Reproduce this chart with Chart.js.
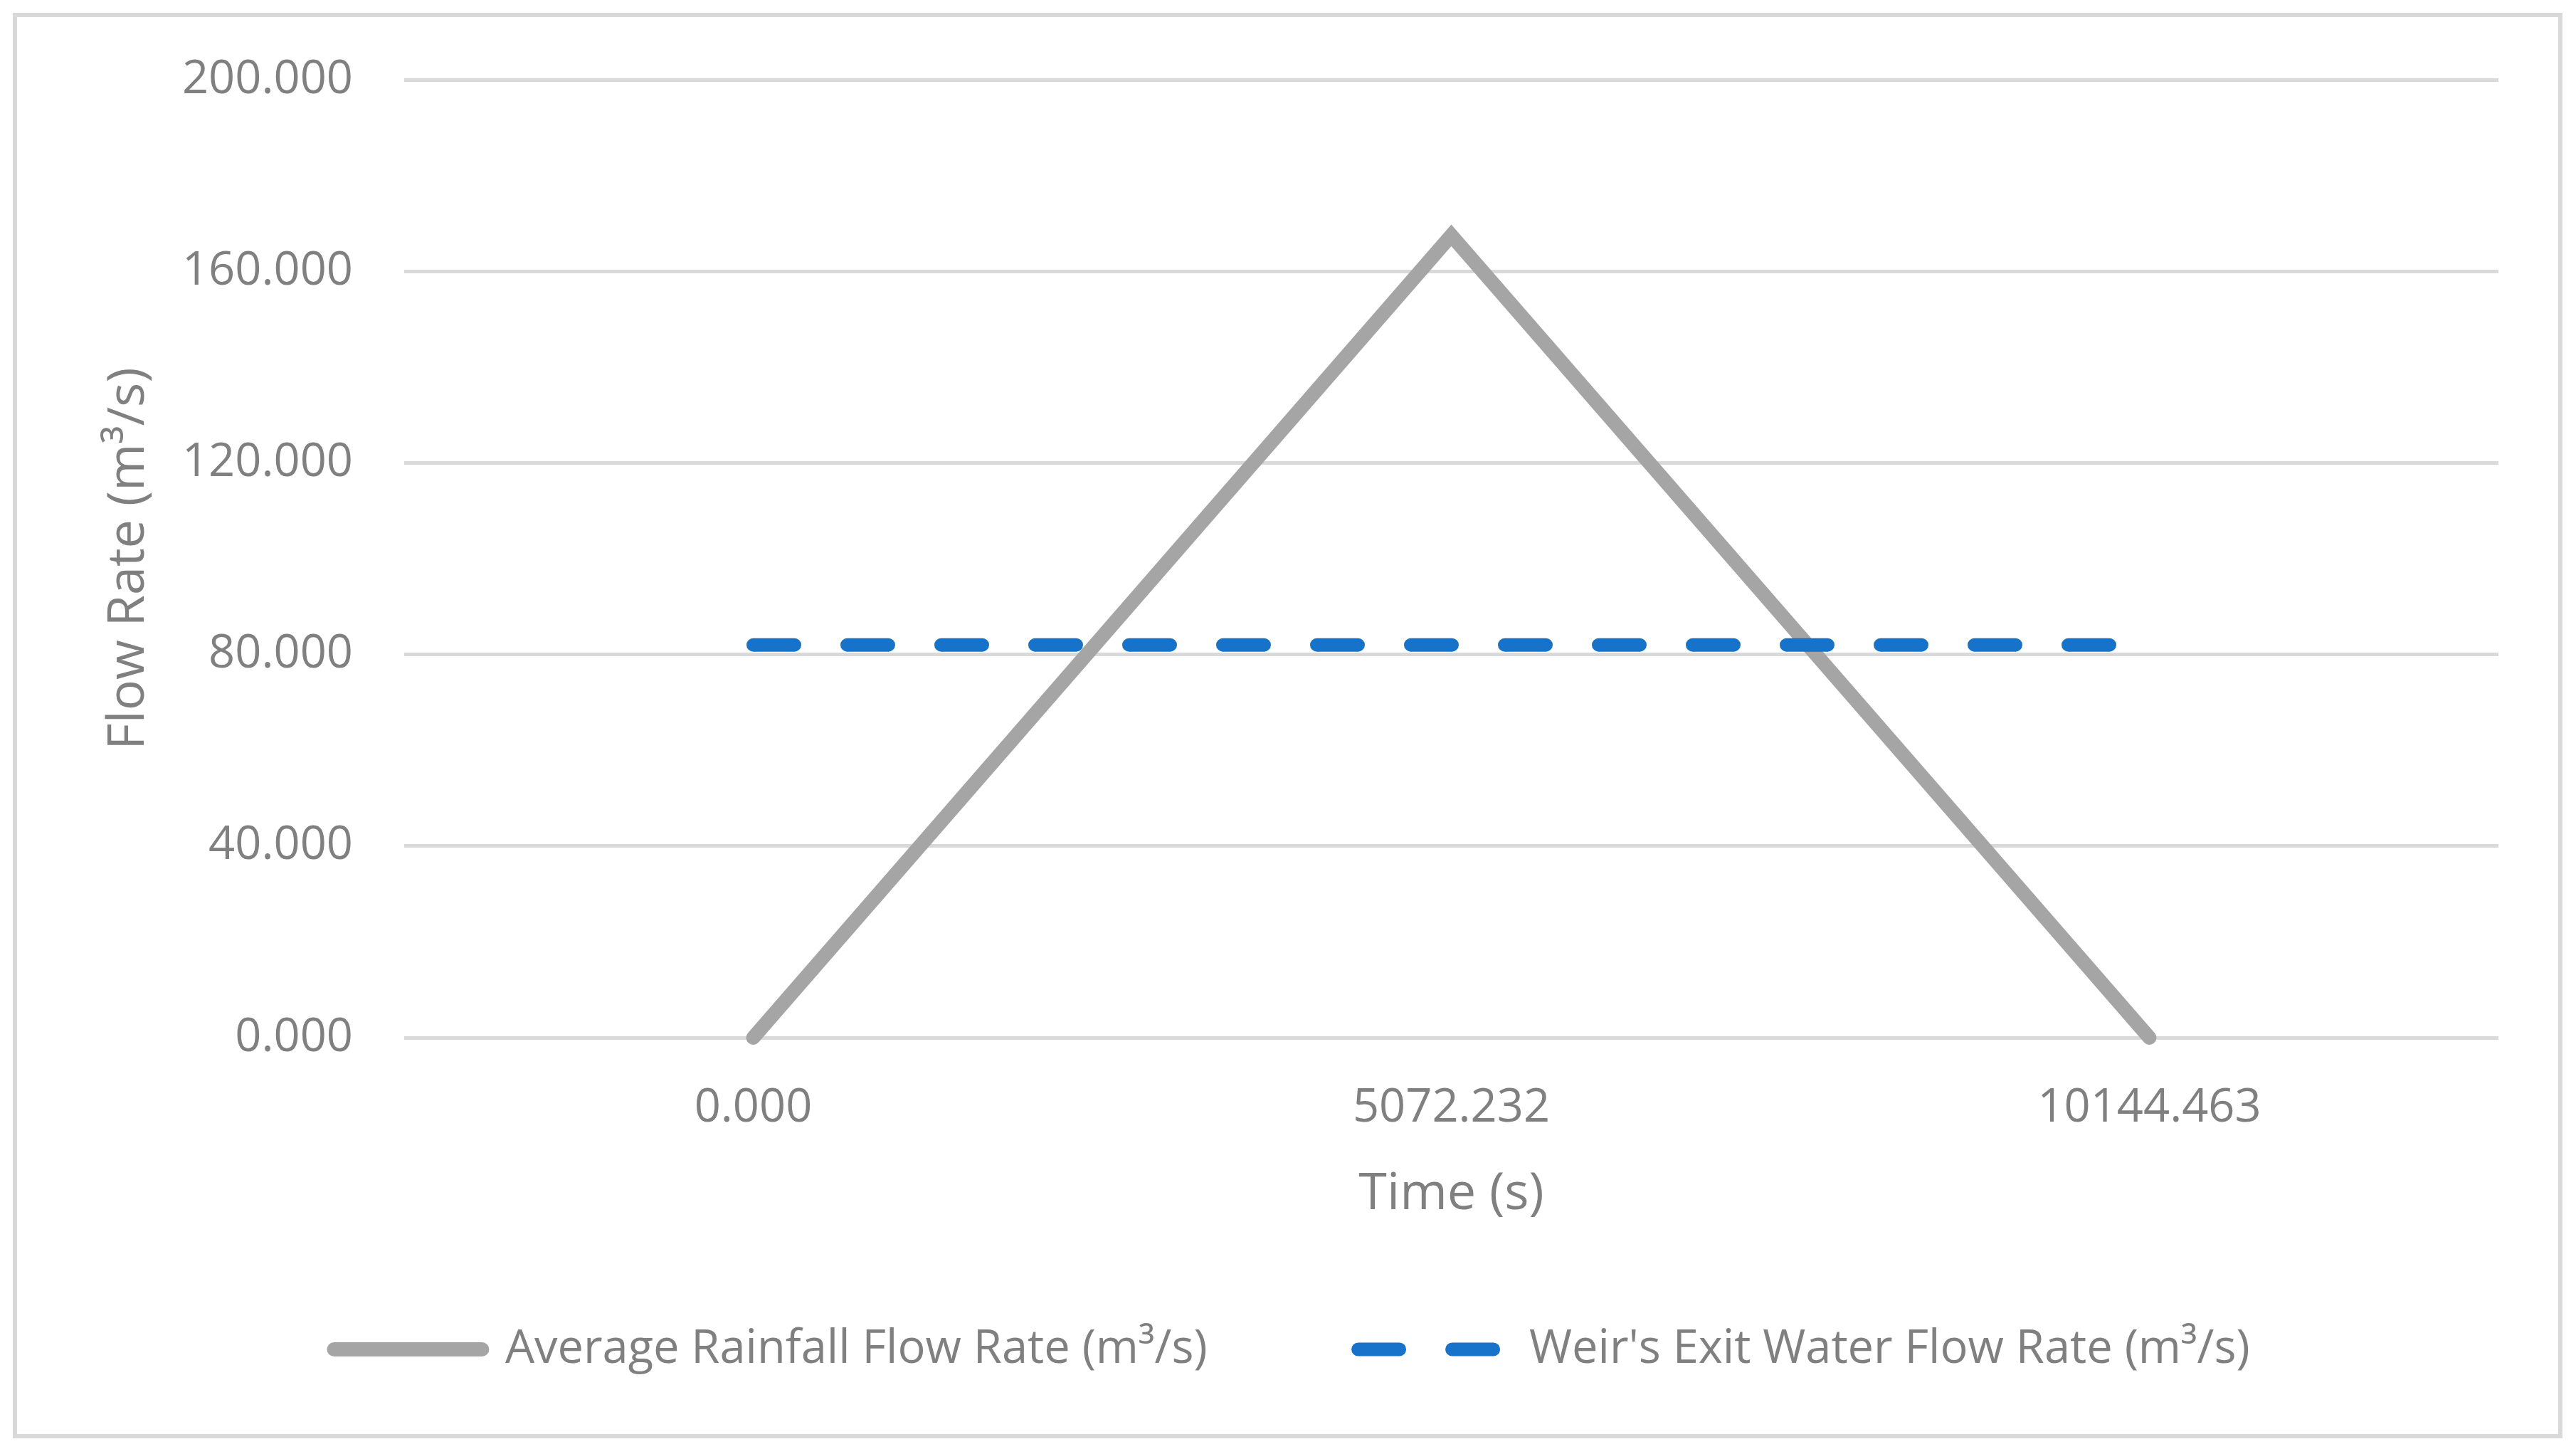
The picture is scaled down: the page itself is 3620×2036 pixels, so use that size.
<!DOCTYPE html>
<html>
<head>
<meta charset="utf-8">
<script src="https://cdn.jsdelivr.net/npm/chart.js@4.4.1/dist/chart.umd.min.js"></script>
<style>
  html, body { margin: 0; padding: 0; background: #fff; overflow: hidden; }
  #frame { position: absolute; left: 18px; top: 18px; width: 3583px; height: 2003px; box-sizing: border-box; border: 6px solid #d9d9d9; }
  #myChart { position: absolute; left: 0; top: 0; }
</style>
</head>
<body>
<div id="frame"></div>
<canvas id="myChart" width="3620" height="2036"></canvas>
<script>
const timeLabels = ['0.000', '5072.232', '10144.463'];
const rainfallFlow = [0, 167.5, 0];
const weirFlow = [82, 82, 82];
const yTicks = [0, 40, 80, 120, 160, 200];

const textColor = '#808080';
const fontName = "'Open Sans', 'Noto Sans', sans-serif";

function DisplayChart() {
  const data = {
    labels: timeLabels,
    datasets: [{
      label: 'Average Rainfall Flow Rate (m\u00b3/s)',
      data: rainfallFlow,
      borderColor: '#a5a5a5',
      backgroundColor: '#a5a5a5',
      borderWidth: 20,
      borderCapStyle: 'round',
      borderJoinStyle: 'miter',
      pointRadius: 0,
      tension: 0,
      clip: false,
      order: 1
    }, {
      label: "Weir's Exit Water Flow Rate (m\u00b3/s)",
      data: weirFlow,
      borderColor: '#1773c9',
      backgroundColor: '#1773c9',
      borderWidth: 19,
      borderDash: [58, 74],
      borderCapStyle: 'round',
      pointRadius: 0,
      tension: 0,
      clip: false,
      order: 0
    }]
  };

  const config = {
    type: 'line',
    data: data,
    options: {
      responsive: false,
      devicePixelRatio: 1,
      animation: false,
      layout: {
        padding: { left: 120, right: 109, top: 112, bottom: 97.5 }
      },
      scales: {
        x: {
          offset: true,
          grid: { display: false, drawTicks: false },
          border: { display: false },
          ticks: {
            color: textColor,
            padding: 60,
            maxRotation: 0,
            autoSkip: false,
            font: { family: fontName, size: 65 }
          },
          title: {
            display: true,
            text: 'Time (s)',
            color: textColor,
            font: { family: fontName, size: 72 },
            padding: { top: 0, bottom: -70 }
          },
          afterFit: function (scale) { scale.height = 193.5; }
        },
        y: {
          min: 0,
          max: 200,
          grid: { color: '#d9d9d9', lineWidth: 5, drawTicks: false },
          border: { display: false },
          afterBuildTicks: function (scale) {
            scale.ticks = yTicks.map(v => ({ value: v }));
          },
          ticks: {
            color: textColor,
            padding: 72,
            font: { family: fontName, size: 65 },
            callback: function (value) { return Number(value).toFixed(3); }
          },
          title: {
            display: true,
            text: 'Flow Rate (m\u00b3/s)',
            color: textColor,
            font: { family: fontName, size: 72 },
            padding: { top: 18, bottom: 0 }
          },
          afterFit: function (scale) { scale.width = 448; }
        }
      },
      plugins: {
        tooltip: { enabled: false },
        legend: {
          position: 'bottom',
          labels: {
            color: textColor,
            font: { family: fontName, size: 65 },
            usePointStyle: true,
            pointStyle: 'line',
            pointStyleWidth: 208,
            padding: 212,
            // build the keys from the datasets so dash and caps carry over
            generateLabels: function (chart) {
              return chart.data.datasets.map((ds, i) => ({
                text: ds.label,
                fillStyle: ds.borderColor,
                strokeStyle: ds.borderColor,
                fontColor: textColor,
                lineWidth: ds.borderWidth,
                lineDash: ds.borderDash || [],
                lineCap: 'round',
                pointStyle: 'line',
                hidden: false,
                datasetIndex: i
              }));
            }
          }
        }
      }
    }
  };

  new Chart(
    document.getElementById('myChart'),
    config
  );
}

DisplayChart();
</script>
</body>
</html>
